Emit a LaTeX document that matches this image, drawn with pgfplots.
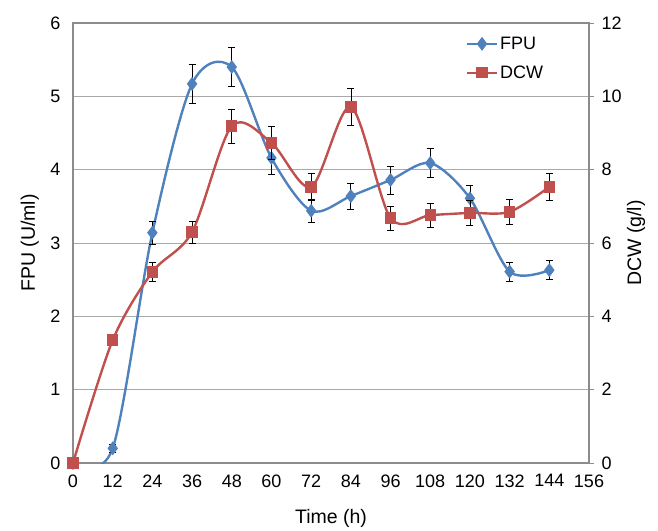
\documentclass[border=0pt]{standalone}
\usepackage{pgfplots}
\pgfplotsset{compat=1.18}
\usepackage{fontspec}
\setmainfont{Liberation Sans}
\definecolor{fpublue}{HTML}{4F81BD}
\definecolor{dcwred}{HTML}{C0504D}
\definecolor{axgray}{HTML}{8C8C8C}
\begin{document}
\begin{tikzpicture}
\useasboundingbox (-73pt,-67pt) rectangle (585pt,463pt);
\pgfplotsset{
  common/.style={
    scale only axis, width=516pt, height=440pt,
    at={(0pt,0pt)}, anchor=south west,
    xmin=0, xmax=156,
    /pgf/number format/assume math mode=true,
    tick label style={font=\fontsize{18}{20}\selectfont},
    label style={font=\fontsize{19.5}{22}\selectfont},
    axis line style={axgray, line width=1.8pt},
    tick align=outside,
    xtick style={draw=none}, xtick={0,12,...,156},
    xticklabel style={yshift=-8pt},
  },
  ebar/.style={error bars/.cd, y dir=both, y explicit,
    error bar style={black, line width=0.7pt},
    error mark options={rotate=90, black, mark size=3.5pt, line width=0.7pt}},
  legend image code/.code={\draw[mark repeat=2, mark phase=2] plot coordinates {(0pt,0pt) (15pt,0pt) (30pt,0pt)};},
}
\begin{axis}[common,
  ymin=0, ymax=6, ytick={0,1,...,6},
  ytick pos=left, xtick pos=bottom,
  major tick length=0pt,
  ytick style={draw=none},
  yticklabel style={xshift=-9pt},
  ymajorgrids, grid style={axgray!75, line width=0.9pt},
  xlabel={Time (h)}, ylabel={FPU (U/ml)},
  xlabel style={at={(axis description cs:0.5,-0.127)}, anchor=center},
  ylabel style={at={(axis description cs:-0.0835,0.5)}, anchor=center, rotate=0},
]
\addplot[fpublue, line width=2.4pt, smooth, tension=0.5,
  mark=diamond*, mark size=5pt, mark options={fpublue}, ebar]
coordinates {
 (0,0) +- (0,0)
 (12,0.2) +- (0,0.05)
 (24,3.14) +- (0,0.16)
 (36,5.17) +- (0,0.26)
 (48,5.40) +- (0,0.27)
 (60,4.16) +- (0,0.22)
 (72,3.44) +- (0,0.16)
 (84,3.64) +- (0,0.18)
 (96,3.86) +- (0,0.19)
 (108,4.09) +- (0,0.2)
 (120,3.61) +- (0,0.17)
 (132,2.61) +- (0,0.13)
 (144,2.63) +- (0,0.13)
};
\end{axis}
\begin{axis}[common,
  ymin=0, ymax=12, ytick={0,2,...,12},
  axis x line=none,
  axis y line*=right,
  major tick length=5pt,
  ytick style={axgray, line width=0.9pt},
  yticklabel style={xshift=4pt},
  ylabel={DCW (g/l)},
  ylabel style={at={(axis description cs:1.091,0.5)}, anchor=center, rotate=0},
  legend style={draw=none, fill=none, at={(0.757,0.978)}, anchor=north west,
    font=\fontsize{18}{20}\selectfont, row sep=11pt, inner xsep=2pt},
  legend cell align=left,
]
\addlegendimage{fpublue, line width=2.4pt, mark=diamond*, mark size=5pt}
\addlegendentry{FPU}
\addplot[dcwred, line width=2.4pt, smooth, tension=0.5,
  mark=square*, mark size=4.5pt, mark options={dcwred}, ebar]
coordinates {
 (0,0) +- (0,0)
 (12,3.35) +- (0,0.12)
 (24,5.21) +- (0,0.25)
 (36,6.3) +- (0,0.3)
 (48,9.19) +- (0,0.46)
 (60,8.73) +- (0,0.44)
 (72,7.53) +- (0,0.38)
 (84,9.71) +- (0,0.5)
 (96,6.68) +- (0,0.33)
 (108,6.76) +- (0,0.33)
 (120,6.82) +- (0,0.34)
 (132,6.85) +- (0,0.34)
 (144,7.53) +- (0,0.38)
};
\addlegendentry{DCW}
\end{axis}
\end{tikzpicture}
\end{document}
